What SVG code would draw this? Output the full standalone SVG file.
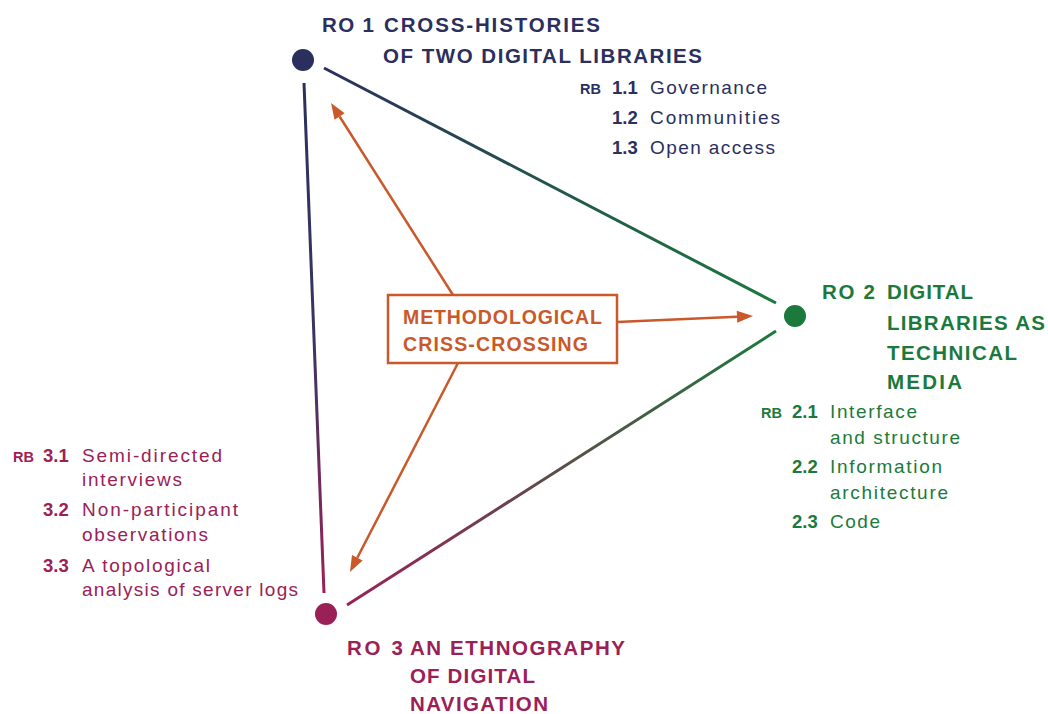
<svg xmlns="http://www.w3.org/2000/svg" width="1048" height="714" viewBox="0 0 1048 714">
<style>
text{font-family:"Liberation Sans",Arial,sans-serif}
.t{font-weight:bold;font-size:20.5px}
.rb{font-weight:bold;font-size:14.5px}
.n{font-weight:bold;font-size:18.5px}
.i{font-size:19px}
.nv{fill:#2b2f5d}
.gr{fill:#1b7a3b}
.mg{fill:#9a2157}
.or{fill:#c9592b}
.edge{fill:none;stroke-width:3}
.arr{fill:none;stroke:#c9592b;stroke-width:2.5}
</style>
<defs>
<linearGradient id="g12" gradientUnits="userSpaceOnUse" x1="324" y1="68" x2="776" y2="303"><stop offset="0" stop-color="#2b2f5d"/><stop offset="1" stop-color="#1b7a3b"/></linearGradient>
<linearGradient id="g13" gradientUnits="userSpaceOnUse" x1="304" y1="83" x2="324" y2="593"><stop offset="0" stop-color="#2b2f5d"/><stop offset="0.5" stop-color="#3a3560"/><stop offset="1" stop-color="#9a2157"/></linearGradient>
<linearGradient id="g23" gradientUnits="userSpaceOnUse" x1="776" y1="331" x2="347" y2="605"><stop offset="0" stop-color="#1b7a3b"/><stop offset="1" stop-color="#9a2157"/></linearGradient>
<marker id="ah" markerUnits="userSpaceOnUse" markerWidth="16" markerHeight="12" refX="0" refY="6" orient="auto" overflow="visible"><path d="M0,0 L16,6 L0,12 z" fill="#c9592b"/></marker>
</defs>

<g id="connectors">
<line class="edge" x1="324" y1="68" x2="776" y2="303" stroke="url(#g12)"/>
<line class="edge" x1="304" y1="83" x2="324" y2="593" stroke="url(#g13)"/>
<line class="edge" x1="776" y1="331" x2="347" y2="605" stroke="url(#g23)"/>
<line class="arr" x1="453" y1="295" x2="339.6" y2="116.5" marker-end="url(#ah)"/>
<line class="arr" x1="617" y1="322" x2="737" y2="316.7" marker-end="url(#ah)"/>
<line class="arr" x1="458" y1="363" x2="357.3" y2="557.8" marker-end="url(#ah)"/>
</g>

<g id="ro1">
<circle cx="303" cy="60" r="11" fill="#2b2f5d"/>
<text class="t nv" x="322" y="32" textLength="52" lengthAdjust="spacing">RO 1</text>
<text class="t nv" x="384" y="32" textLength="216" lengthAdjust="spacing">CROSS-HISTORIES</text>
<text class="t nv" x="383" y="63" textLength="319" lengthAdjust="spacing">OF TWO DIGITAL LIBRARIES</text>
<text class="rb nv" x="580" y="94">RB</text>
<text class="n nv" x="612" y="94">1.1</text>
<text class="i nv" x="650" y="94" textLength="117" lengthAdjust="spacing">Governance</text>
<text class="n nv" x="612" y="124">1.2</text>
<text class="i nv" x="650" y="124" textLength="130" lengthAdjust="spacing">Communities</text>
<text class="n nv" x="612" y="154">1.3</text>
<text class="i nv" x="650" y="154" textLength="125" lengthAdjust="spacing">Open access</text>
</g>

<g id="ro2">
<circle cx="795" cy="316" r="11" fill="#1b7a3b"/>
<text class="t gr" x="822" y="299" textLength="53" lengthAdjust="spacing">RO 2</text>
<text class="t gr" x="887" y="299" textLength="86" lengthAdjust="spacing">DIGITAL</text>
<text class="t gr" x="887" y="330" textLength="158" lengthAdjust="spacing">LIBRARIES AS</text>
<text class="t gr" x="887" y="360" textLength="130" lengthAdjust="spacing">TECHNICAL</text>
<text class="t gr" x="887" y="389" textLength="75" lengthAdjust="spacing">MEDIA</text>
<text class="rb gr" x="761" y="418">RB</text>
<text class="n gr" x="792" y="418">2.1</text>
<text class="i gr" x="830" y="418" textLength="87" lengthAdjust="spacing">Interface</text>
<text class="i gr" x="830" y="444" textLength="130" lengthAdjust="spacing">and structure</text>
<text class="n gr" x="792" y="473">2.2</text>
<text class="i gr" x="830" y="473" textLength="112" lengthAdjust="spacing">Information</text>
<text class="i gr" x="830" y="499" textLength="118" lengthAdjust="spacing">architecture</text>
<text class="n gr" x="792" y="528">2.3</text>
<text class="i gr" x="830" y="528" textLength="50" lengthAdjust="spacing">Code</text>
</g>

<g id="ro3">
<circle cx="326" cy="614" r="11" fill="#9a2157"/>
<text class="t mg" x="347" y="655" textLength="56" lengthAdjust="spacing">RO 3</text>
<text class="t mg" x="410" y="655" textLength="215" lengthAdjust="spacing">AN ETHNOGRAPHY</text>
<text class="t mg" x="410" y="683" textLength="125" lengthAdjust="spacing">OF DIGITAL</text>
<text class="t mg" x="410" y="711" textLength="138" lengthAdjust="spacing">NAVIGATION</text>
<text class="rb mg" x="13" y="462">RB</text>
<text class="n mg" x="43" y="462">3.1</text>
<text class="i mg" x="82" y="462" textLength="140" lengthAdjust="spacing">Semi-directed</text>
<text class="i mg" x="82" y="486" textLength="100" lengthAdjust="spacing">interviews</text>
<text class="n mg" x="43" y="516">3.2</text>
<text class="i mg" x="82" y="516" textLength="156" lengthAdjust="spacing">Non-participant</text>
<text class="i mg" x="82" y="541" textLength="126" lengthAdjust="spacing">observations</text>
<text class="n mg" x="43" y="572">3.3</text>
<text class="i mg" x="82" y="572" textLength="128" lengthAdjust="spacing">A topological</text>
<text class="i mg" x="82" y="596" textLength="216" lengthAdjust="spacing">analysis of server logs</text>
</g>

<g id="method">
<rect x="388" y="295" width="229" height="68" fill="#fff" stroke="#c9592b" stroke-width="2.5"/>
<text class="or" font-weight="bold" font-size="19.5" x="403" y="324" textLength="199" lengthAdjust="spacing">METHODOLOGICAL</text>
<text class="or" font-weight="bold" font-size="19.5" x="403" y="351" textLength="185" lengthAdjust="spacing">CRISS-CROSSING</text>
</g>
</svg>
